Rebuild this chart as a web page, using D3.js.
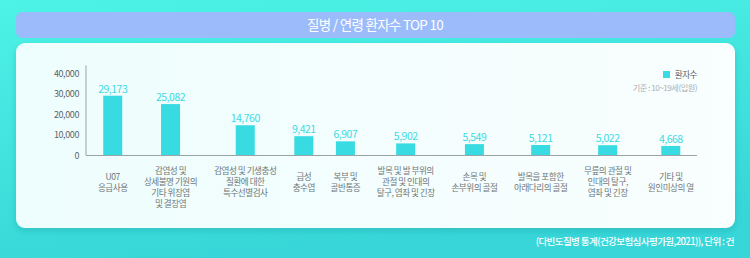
<!DOCTYPE html>
<html>
<head>
<meta charset="utf-8">
<script src="https://cdn.jsdelivr.net/npm/d3@7"></script>
<style>
  html, body { margin: 0; padding: 0; background: #45e6e0; }
  svg { display: block; font-family: "Noto Sans CJK KR", "Noto Sans", sans-serif; }
</style>
</head>
<body>
<svg id="drawing_region"></svg>
<script>
// data
const categories = ['U07 응급사용', '위장염 및 결장염', '특수선별검사', '급성 충수염', '복부 및 골반통증',
    '발목 탈구', '손부위 골절', '아래다리 골절', '무릎 탈구', '원인미상의 열'];
const labelLines = [
    ['U07', '응급사용'],
    ['감염성 및', '상세불명 기원의', '기타 위장염', '및 결장염'],
    ['감염성 및 기생충성', '질환에 대한', '특수선별검사'],
    ['급성', '충수염'],
    ['복부 및', '골반통증'],
    ['발목 및 발 부위의', '관절 및 인대의', '탈구, 염좌 및 긴장'],
    ['손목 및', '손부위의 골절'],
    ['발목을 포함한', '아래다리의 골절'],
    ['무릎의 관절 및', '인대의 탈구,', '염좌 및 긴장'],
    ['기타 및', '원인미상의 열']
];
const patients = [29173, 25082, 14760, 9421, 6907, 5902, 5549, 5121, 5022, 4668];
const yTicks = [0, 10000, 20000, 30000, 40000];
const titleText = '질병 / 연령 환자수 TOP 10';
const legendText = '환자수';
const baseText = '기준 : 10~19세(입원)';
const sourceText = '(다빈도질병 통계(건강보험심사평가원,2021)), 단위 : 건';

const W = 750, H = 258;
const svg = d3.select('#drawing_region').attr('width', W).attr('height', H);

// background
const defs = svg.append('defs');
const bg = defs.append('linearGradient').attr('id', 'bg').attr('x1', 0).attr('y1', 0).attr('x2', 0.3).attr('y2', 1);
bg.append('stop').attr('offset', '0%').attr('stop-color', '#4df3e6');
bg.append('stop').attr('offset', '100%').attr('stop-color', '#38d6d8');
const pg = defs.append('linearGradient').attr('id', 'panel').attr('x1', 0).attr('y1', 0).attr('x2', 1).attr('y2', 0);
pg.append('stop').attr('offset', '0%').attr('stop-color', '#eefdfd');
pg.append('stop').attr('offset', '100%').attr('stop-color', '#f9fefe');
const sh = defs.append('filter').attr('id', 'shadow').attr('x', -0.1).attr('y', -0.1).attr('width', 1.2).attr('height', 1.3);
sh.append('feDropShadow').attr('dx', 0).attr('dy', 3).attr('stdDeviation', 3)
    .attr('flood-color', '#1a9aa0').attr('flood-opacity', 0.35);

svg.append('rect').attr('width', W).attr('height', H).attr('fill', 'url(#bg)');

// title bar
svg.append('rect').attr('x', 16).attr('y', 12).attr('width', 719).attr('height', 26).attr('rx', 6)
    .attr('fill', '#9bbbfb');
svg.append('text').attr('x', W / 2).attr('y', 25).attr('dy', '0.35em')
    .attr('text-anchor', 'middle').attr('fill', '#fff')
    .style('font-size', '13.5px').style('letter-spacing', '-0.7px')
    .text(titleText);

// panel
svg.append('rect').attr('x', 16).attr('y', 43).attr('width', 719).attr('height', 185).attr('rx', 9)
    .attr('fill', 'url(#panel)').attr('filter', 'url(#shadow)');

// axes
const x0 = 86, x1 = 697;
const yscale = d3.scaleLinear().domain([0, 40000]).range([155.5, 73.5]);

const chart = svg.append('g');

// category labels - measure widest line to lay out slots like the original
const labelG = chart.append('g');
const labels = labelG.selectAll('text').data(labelLines).join('text')
    .attr('text-anchor', 'middle').attr('fill', '#6f7778')
    .style('font-size', '8.6px').style('letter-spacing', '-0.5px');
labels.each(function (lines) {
    const t = d3.select(this);
    lines.forEach(l => t.append('tspan').text(l));
});
const widths = [];
labels.each(function () {
    let w = 0;
    d3.select(this).selectAll('tspan').each(function () { w = Math.max(w, this.getComputedTextLength()); });
    widths.push(w);
});
const gap = 14;
const slots = widths.map(w => w + gap);
const total = d3.sum(slots);
const startX = 90, endX = 702;
const k = (endX - startX) / total;
let acc = startX;
const centers = slots.map(s => { const c = acc + s * k / 2; acc += s * k; return c; });
const xscale = d3.scaleOrdinal().domain(categories).range(centers);

const lineH = 11;
labels.each(function (lines, i) {
    const n = Math.min(lines.length, 3);
    const top = 182 - (n - 1) * lineH / 2;
    d3.select(this).selectAll('tspan')
        .attr('x', xscale(categories[i]))
        .attr('y', (d, j) => top + j * lineH)
        .attr('dy', '0.35em');
});

// y axis
const yaxis = d3.axisLeft(yscale).tickValues(yTicks).tickSize(0).tickPadding(7).tickFormat(d3.format(','));
const yg = chart.append('g').attr('transform', `translate(${x0},0)`).call(yaxis);
yg.select('.domain').remove();
yg.selectAll('text').attr('fill', '#5c6466').style('font-size', '9px').style('letter-spacing', '-0.4px')
    .style('font-family', '"Noto Sans CJK KR", sans-serif');
chart.append('line').attr('x1', x0).attr('x2', x0).attr('y1', yscale(40000) - 8).attr('y2', yscale(0))
    .attr('stroke', '#9aa3a6').attr('stroke-width', 1);
chart.append('line').attr('x1', x0).attr('x2', x1).attr('y1', yscale(0)).attr('y2', yscale(0))
    .attr('stroke', '#9aa3a6').attr('stroke-width', 1);

// bars
const barW = 19;
chart.selectAll('rect.bar').data(patients).join('rect').attr('class', 'bar')
    .attr('x', (d, i) => xscale(categories[i]) - barW / 2)
    .attr('y', d => yscale(d))
    .attr('width', barW)
    .attr('height', d => yscale(0) - yscale(d) - 0.5)
    .attr('fill', '#38dbe2');

chart.selectAll('text.val').data(patients).join('text').attr('class', 'val')
    .attr('x', (d, i) => xscale(categories[i]))
    .attr('y', d => yscale(d) - 3)
    .attr('text-anchor', 'middle').attr('fill', '#3ddbe2')
    .style('font-size', '10.5px').style('letter-spacing', '-0.5px')
    .text(d => d3.format(',')(d));

// legend
svg.append('rect').attr('x', 663).attr('y', 71).attr('width', 7).attr('height', 7).attr('fill', '#38dbe2');
svg.append('text').attr('x', 697).attr('y', 74.5).attr('dy', '0.35em').attr('text-anchor', 'end')
    .attr('fill', '#5c6466').style('font-size', '8.6px').style('letter-spacing', '-0.5px').text(legendText);
svg.append('text').attr('x', 697).attr('y', 88).attr('dy', '0.35em').attr('text-anchor', 'end')
    .attr('fill', '#a9b0b2').style('font-size', '8.2px').style('letter-spacing', '-0.5px').text(baseText);

// source
svg.append('text').attr('x', 734).attr('y', 242).attr('dy', '0.35em').attr('text-anchor', 'end')
    .attr('fill', '#fff').style('font-size', '9.6px').style('font-weight', 500).style('letter-spacing', '-0.65px')
    .text(sourceText);
</script>
</body>
</html>
